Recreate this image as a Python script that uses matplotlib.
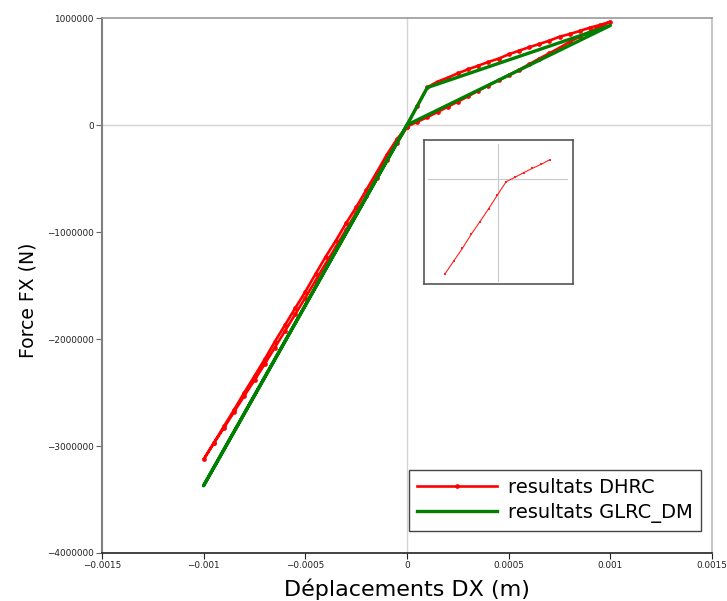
import matplotlib
matplotlib.use("Agg")
import matplotlib.pyplot as plt

# ---------------- data ----------------
# DHRC : positive loading (through the kink), unloading, negative loading, return
dhrc_x_load_pos = [0, 0.00005, 0.0001, 0.00015, 0.0002, 0.00025, 0.0003, 0.00035, 0.0004,
                   0.00045, 0.0005, 0.00055, 0.0006, 0.00065, 0.0007, 0.00075, 0.0008,
                   0.00085, 0.0009, 0.00095, 0.001]
dhrc_y_load_pos = [0, 178000, 352000, 405000, 442000, 483000, 520000, 554000, 589000,
                   620000, 660000, 694000, 726000, 757000, 788000, 825000, 850000,
                   879000, 910000, 935000, 965000]

dhrc_x_unload_pos = [0.00095, 0.0009, 0.00085, 0.0008, 0.00075, 0.0007, 0.00065, 0.0006,
                     0.00055, 0.0005, 0.00045, 0.0004, 0.00035, 0.0003, 0.00025, 0.0002,
                     0.00015, 0.0001, 0.00005, 0]
dhrc_y_unload_pos = [919000, 872000, 826000, 777000, 722000, 670000, 620000, 567000,
                     514000, 466000, 418000, 369000, 320000, 268000, 218000, 170000,
                     121000, 73000, 30000, -15000]

dhrc_x_load_neg = [-0.00005, -0.0001, -0.00015, -0.0002, -0.00025, -0.0003, -0.00035,
                   -0.0004, -0.00045, -0.0005, -0.00055, -0.0006, -0.00065, -0.0007,
                   -0.00075, -0.0008, -0.00085, -0.0009, -0.00095, -0.001]
dhrc_y_load_neg = [-134000, -280000, -446000, -607000, -769000, -919000, -1081000,
                   -1231000, -1393000, -1558000, -1713000, -1869000, -2025000, -2190000,
                   -2346000, -2500000, -2660000, -2815000, -2970000, -3125000]

dhrc_x_unload_neg = [-0.00095, -0.0009, -0.00085, -0.0008, -0.00075, -0.0007, -0.00065,
                     -0.0006, -0.00055, -0.0005, -0.00045, -0.0004, -0.00035, -0.0003,
                     -0.00025, -0.0002, -0.00015, -0.0001, -0.00005, 0]
dhrc_y_unload_neg = [-2975000, -2830000, -2680000, -2530000, -2385000, -2235000, -2080000,
                     -1925000, -1770000, -1615000, -1455000, -1295000, -1140000, -980000,
                     -820000, -660000, -495000, -330000, -170000, -20000]

# GLRC_DM
glrc_x = [0, 0.0001, 0.001, 0, -0.001, 0]
glrc_y = [0, 350000, 930000, 0, -3370000, 0]

# inset curve
inset_x = [-6.1, -5.1, -4.1, -3.1, -2.1, -1.1, -0.1, 0.9, 1.9, 2.9, 3.9, 4.9, 5.9]
inset_y = [-285, -246, -208, -166, -128, -89, -48, -8, 5, 19, 32, 44, 58]

xticks = [-0.0015, -0.001, -0.0005, 0, 0.0005, 0.001, 0.0015]
xtick_labels = ["\u22120.0015", "\u22120.001", "\u22120.0005", "0", "0.0005", "0.001", "0.0015"]
yticks = [-4000000, -3000000, -2000000, -1000000, 0, 1000000]
ytick_labels = ["\u22124000000", "\u22123000000", "\u22122000000", "\u22121000000", "0", "1000000"]

labels = ["resultats DHRC", "resultats GLRC_DM"]

# ---------------- figure ----------------
W, H = 727, 601
fig = plt.figure(figsize=(W / 100, H / 100), dpi=100)
ax = fig.add_axes([102 / W, 1 - 553 / H, (712 - 102) / W, (553 - 18) / H])

dhrc_x = dhrc_x_load_pos + dhrc_x_unload_pos + dhrc_x_load_neg + dhrc_x_unload_neg
dhrc_y = dhrc_y_load_pos + dhrc_y_unload_pos + dhrc_y_load_neg + dhrc_y_unload_neg

ax.axhline(0, color="#d4d4d4", lw=1.0, zorder=0)
ax.axvline(0, color="#d4d4d4", lw=1.0, zorder=0)

ax.plot(dhrc_x, dhrc_y, color="#ff0000", lw=1.9, marker="o", markersize=3.4,
        markeredgewidth=0, label=labels[0], zorder=2)
ax.plot(glrc_x, glrc_y, color="#008000", lw=2.4, label=labels[1], zorder=3)

ax.set_xlim(-0.0015, 0.0015)
ax.set_ylim(-4000000, 1000000)
ax.set_xticks(xticks, xtick_labels)
ax.set_yticks(yticks, ytick_labels)
ax.tick_params(axis="both", labelsize=6.4, colors="#222222", length=4, width=0.8,
               direction="out", pad=2)
ax.tick_params(axis="y", color="#666666")

ax.spines["left"].set_color("#808080")
ax.spines["left"].set_linewidth(1.5)
ax.spines["bottom"].set_color("#222222")
ax.spines["bottom"].set_linewidth(1.2)
ax.spines["top"].set_color("#999999")
ax.spines["top"].set_linewidth(1.2)
ax.spines["right"].set_color("#c8c8c8")
ax.spines["right"].set_linewidth(1.5)

ax.set_xlabel("Déplacements DX (m)", fontsize=16, labelpad=6)
ax.set_ylabel("Force FX (N)", fontsize=13.5)
ax.yaxis.set_label_coords((38 - 102) / 610, (553 - 300.5) / 535)

leg = ax.legend(loc="upper left", bbox_to_anchor=(409 / W, 1 - 470 / H),
                bbox_transform=fig.transFigure, borderaxespad=0, fontsize=14,
                frameon=True, fancybox=False, framealpha=1, edgecolor="#444444",
                handlelength=4.1, handletextpad=0.6, labelspacing=0.32,
                borderpad=0.4, numpoints=1)
leg.get_frame().set_linewidth(1.0)

# ---------------- inset ----------------
outer = fig.add_axes([424 / W, 1 - 284.3 / H, 148.7 / W, 144.3 / H])
outer.set_xticks([])
outer.set_yticks([])
for s in outer.spines.values():
    s.set_color("#555555")
    s.set_linewidth(1.2)
outer.set_zorder(5)

inner = fig.add_axes([428.3 / W, 1 - 281.7 / H, 140 / W, 137.4 / H])
inner.set_zorder(6)
inner.patch.set_alpha(0)
inner.axhline(0, color="#c8c8c8", lw=0.8, zorder=0)
inner.axvline(0, color="#c8c8c8", lw=0.8, zorder=0)
inner.plot(inset_x, inset_y, color="#ff2020", lw=0.8, marker="s", markersize=2.0,
           markeredgewidth=0)
inner.set_xlim(-8.0, 8.0)
inner.set_ylim(-308, 104)
inner.set_xticks([])
inner.set_yticks([])
for s in inner.spines.values():
    s.set_visible(False)

fig.savefig("out.png", dpi=100)
